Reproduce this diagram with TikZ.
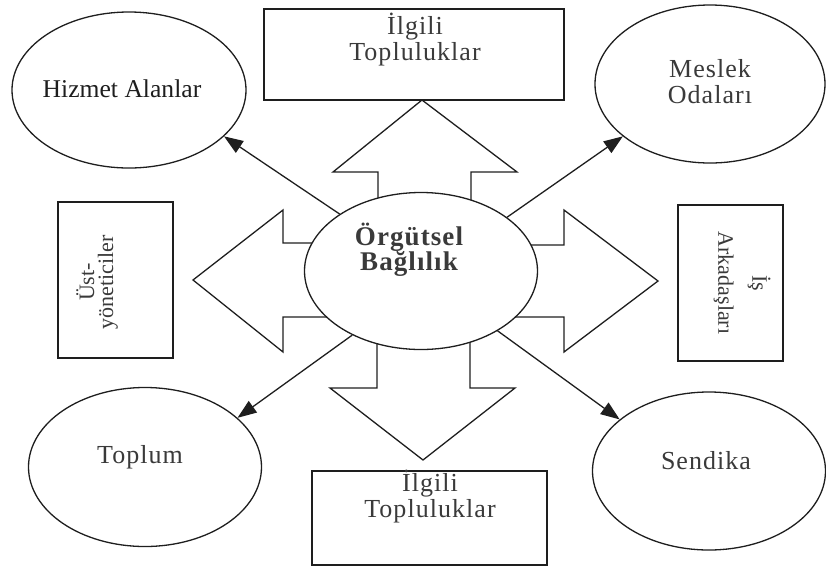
\documentclass[tikz,border=0pt]{standalone}
\usepackage{fontspec}
\setmainfont{Liberation Serif}
\newfontfamily\spaced[LetterSpace=4]{Liberation Serif}
\usetikzlibrary{arrows.meta,shapes.geometric}
\definecolor{ink}{HTML}{1E1E1E}
\definecolor{softink}{HTML}{3A3A3A}
\tikzset{oval/.style={ellipse,draw=ink,fill=white,line width=.65pt,inner sep=0pt}, frame/.style={draw=ink,fill=white,line width=.7pt,inner sep=0pt}, lbl/.style={align=center,text=softink,font=\spaced\fontsize{13}{13}\selectfont}, side/.style={align=center,text=softink,font=\fontsize{11}{13}\selectfont}, flow/.style={-{Triangle[length=9.5pt,width=7pt]},line width=.65pt,draw=ink}, fat/.style={draw=ink,line width=.65pt,line join=miter}}

\begin{document}
\begin{tikzpicture}[x=0.5pt,y=-0.5pt]
\useasboundingbox (0,0) rectangle (826,569);
\node[frame,minimum width=150pt,minimum height=45.5pt] (topbox) at (414,54.5) {};
\node[frame,minimum width=117.5pt,minimum height=47pt] (botbox) at (429.5,518) {};
\node[frame,minimum width=57.5pt,minimum height=78pt] (ustbox) at (115.5,280) {};
\node[frame,minimum width=52.5pt,minimum height=78pt] (isbox) at (730.5,283) {};
% block arrows, under the centre
\draw[fat] (378,230)--(378,172)--(333,172)--(422,100)--(517,172)--(471,172)--(471,230);
\draw[fat] (377,310)--(377,388)--(330,388)--(423,460)--(515,388)--(470,388)--(470,310);
\draw[fat] (330,243)--(283,243)--(283,210)--(193,280)--(283,352)--(283,317)--(330,317);
\draw[fat] (510,245)--(564,245)--(564,210)--(658,281)--(564,352)--(564,317)--(510,317);
\node[oval,minimum width=117pt,minimum height=78pt] (hizmet) at (129,90) {};
\node[oval,minimum width=115pt,minimum height=79pt] (meslek) at (710,84) {};
\node[oval,minimum width=116.5pt,minimum height=79.5pt] (toplum) at (145,467) {};
\node[oval,minimum width=116.5pt,minimum height=79pt] (sendika) at (709,471) {};
\node[oval,minimum width=116.5pt,minimum height=78.5pt] (core) at (421,271) {};
% labels
\node[align=center,text=ink,font=\fontsize{12.8}{14}\selectfont] (hizmet-t) at (122,89) {Hizmet Alanlar};
\node[lbl] (meslek-t) at (710,82) {Meslek\\Odaları};
\node[lbl] (toplum-t) at (140,457) {Toplum};
\node[lbl] (sendika-t) at (706,461) {Sendika};
\node[lbl,font=\spaced\bfseries\fontsize{13.5}{12.5}\selectfont] (core-t) at (409,250) {Örgütsel\\Bağlılık};
\node[lbl] (topbox-t) at (415,40) {İlgili\\Topluluklar};
\node[lbl] (botbox-t) at (430,497) {İlgili\\Topluluklar};
\node[side,rotate=90,font=\fontsize{11}{9.5}\selectfont] (ust-t) at (97,282) {Üst-\\yöneticiler};
\node[side,rotate=-90] (is-t) at (742,283) {İş\\[4pt]Arkadaşları};
% thin arrows
\draw[flow] (core.145) -- (hizmet.334);
\draw[flow] (core.32) -- (meslek.211);
\draw[flow] (core.223) -- (toplum.28);
\draw[flow] (core.322) -- (sendika.150);
\end{tikzpicture}
\end{document}
